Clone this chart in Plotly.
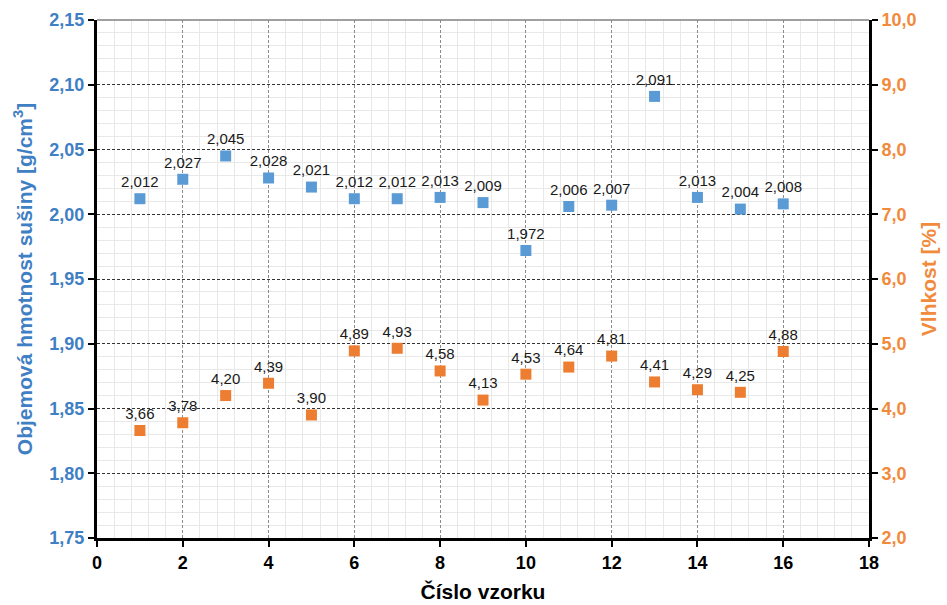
import plotly.graph_objects as go

# Sample numbers
samples = list(range(1, 17))
# Dry bulk density [g/cm3]
density = [2.012, 2.027, 2.045, 2.028, 2.021, 2.012, 2.012, 2.013, 2.009,
           1.972, 2.006, 2.007, 2.091, 2.013, 2.004, 2.008]
# Moisture [%]
moisture = [3.66, 3.78, 4.20, 4.39, 3.90, 4.89, 4.93, 4.58, 4.13,
            4.53, 4.64, 4.81, 4.41, 4.29, 4.25, 4.88]

BLUE = "#5b9bd5"
ORANGE = "#ed7d31"
AXBLUE = "#3f80c4"
AXORANGE = "#f28a3c"
FONT = "Arial, Liberation Sans, sans-serif"

dens_text = [f"{v:.3f}".replace(".", ",") for v in density]
moist_text = [f"{v:.2f}".replace(".", ",") for v in moisture]

fig = go.Figure()
fig.add_trace(go.Scatter(
    x=samples, y=density, mode="markers+text",
    marker=dict(symbol="square", size=11, color=BLUE),
    text=dens_text, textposition="top center",
    textfont=dict(family=FONT, size=15, color="#1a1a1a"),
    cliponaxis=False, showlegend=False, yaxis="y",
))
fig.add_trace(go.Scatter(
    x=samples, y=moisture, mode="markers+text",
    marker=dict(symbol="square", size=11, color=ORANGE),
    text=moist_text, textposition="top center",
    textfont=dict(family=FONT, size=15, color="#1a1a1a"),
    cliponaxis=False, showlegend=False, yaxis="y2",
))

fig.update_layout(
    width=947, height=605,
    margin=dict(l=97, r=78, t=20, b=67),
    paper_bgcolor="white", plot_bgcolor="white",
    separators=", ",
    font=dict(family=FONT),
    xaxis=dict(
        range=[0, 18], dtick=2, tick0=0, automargin=False,
        showline=True, linecolor="black", linewidth=3,
        ticks="outside", ticklen=6, tickwidth=2, tickcolor="black",
        tickfont=dict(family=FONT, size=18, color="black", weight="bold"),
        showgrid=True, gridcolor="#8c8c8c", gridwidth=1, griddash="3px,2px",
        minor=dict(dtick=0.4, showgrid=True, gridcolor="#e8e8e8", gridwidth=1,
                   griddash="solid"),
        zeroline=False,
        title=dict(text="<b>Číslo vzorku</b>", standoff=13,
                   font=dict(family=FONT, size=21, color="black")),
    ),
    yaxis=dict(
        range=[1.75, 2.15], dtick=0.05, tick0=1.75, tickformat=".2f",
        automargin=False,
        showline=True, linecolor="black", linewidth=3,
        ticks="outside", ticklen=6, tickwidth=2, tickcolor="black",
        tickfont=dict(family=FONT, size=18, color=AXBLUE, weight="bold"),
        showgrid=True, gridcolor="#333333", gridwidth=1, griddash="3px,2px",
        minor=dict(dtick=0.01, showgrid=True, gridcolor="#e8e8e8", gridwidth=1,
                   griddash="solid"),
        zeroline=False,
        title=dict(text="<b>Objemová hmotnost sušiny [g/cm<sup>3</sup>]</b>",
                   standoff=12, font=dict(family=FONT, size=21, color=AXBLUE)),
    ),
    yaxis2=dict(
        range=[2, 10], dtick=1, tick0=2, tickformat=".1f",
        overlaying="y", side="right", anchor="x", automargin=False,
        showline=True, linecolor="black", linewidth=3,
        ticks="outside", ticklen=6, tickwidth=2, tickcolor="black",
        tickfont=dict(family=FONT, size=18, color=AXORANGE, weight="bold"),
        showgrid=False, zeroline=False,
        title=dict(text="<b>Vlhkost [%]</b>", standoff=6,
                   font=dict(family=FONT, size=21, color=AXORANGE)),
    ),
    shapes=[dict(type="line", xref="paper", yref="paper", x0=0, x1=1, y0=1, y1=1,
                 line=dict(color="#808080", width=1.5))],
)

fig.write_html("out.html")
